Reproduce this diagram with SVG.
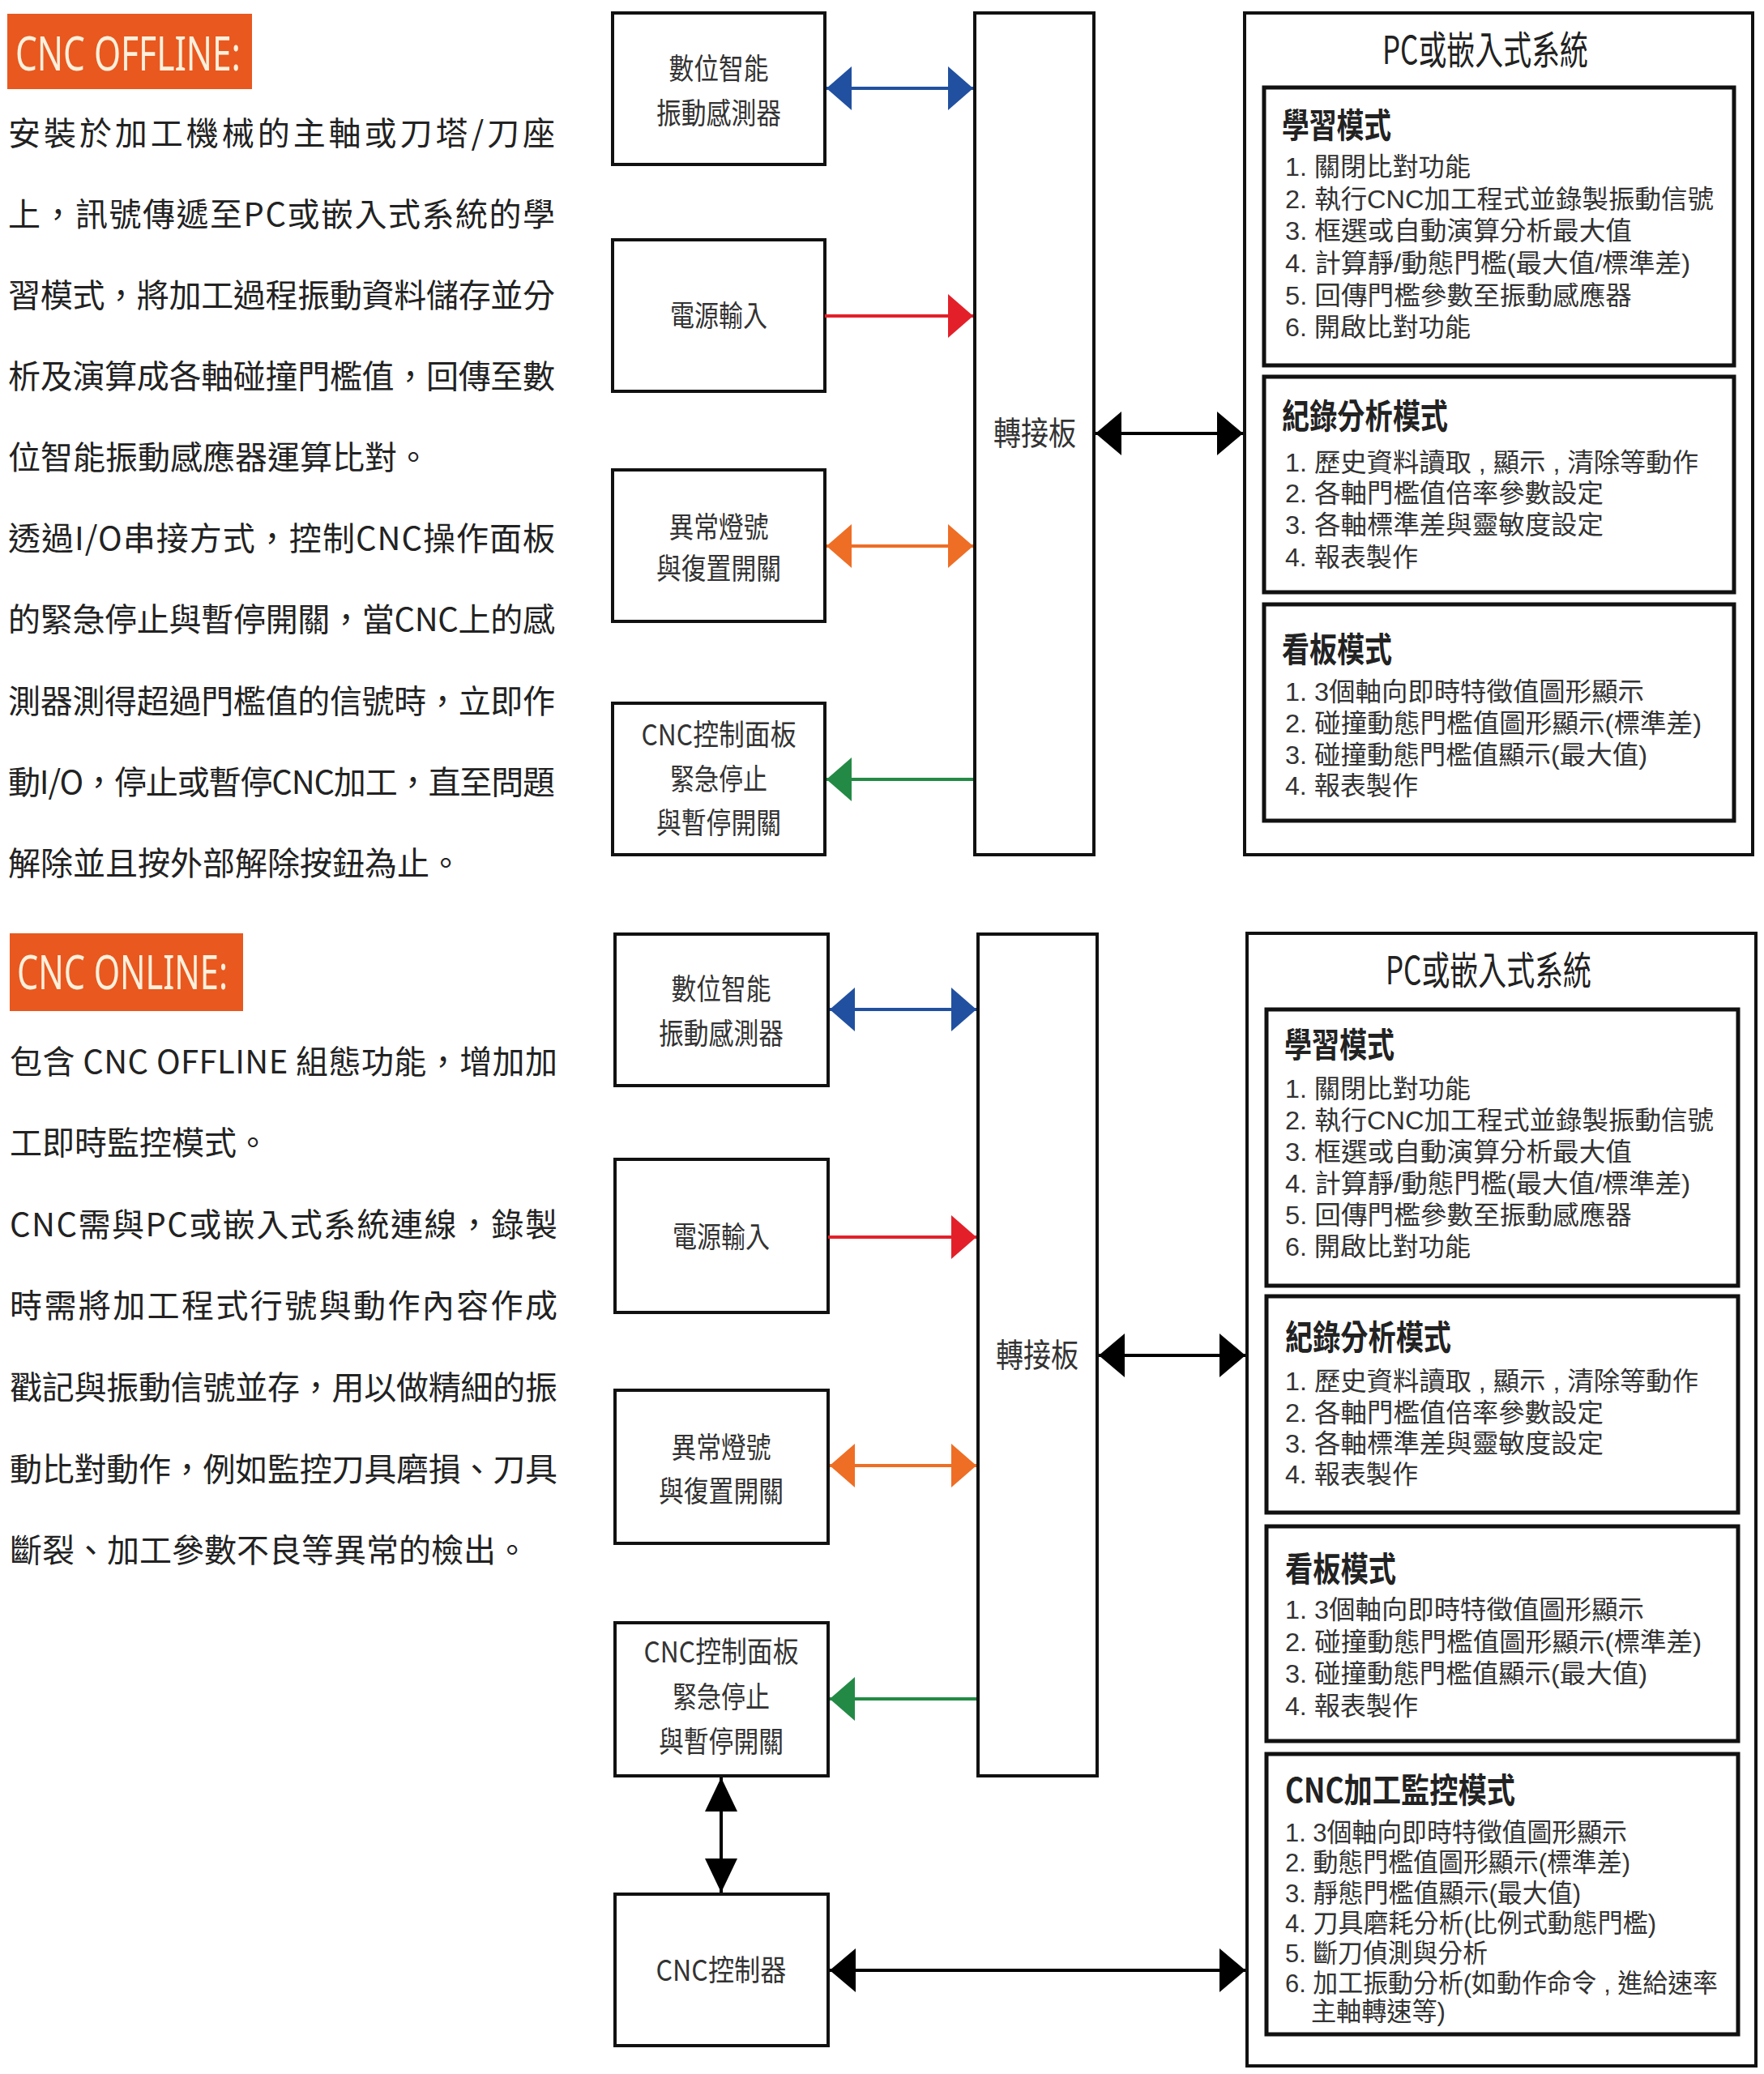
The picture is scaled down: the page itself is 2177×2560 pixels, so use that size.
<svg xmlns="http://www.w3.org/2000/svg" width="2177" height="2560" viewBox="0 0 2177 2560">
<style>
.para{font-family:"Noto Sans CJK TC","Noto Sans",sans-serif;font-size:40px;fill:#222}
.tag{font-family:"Noto Sans","Liberation Sans",sans-serif;font-size:58px;fill:#fdf0dc}
.tagbox{fill:#e8581f}
.node{fill:#fff;stroke:#111;stroke-width:4}
.inner{fill:#fff;stroke:#111;stroke-width:5}
.nt{font-family:"Noto Sans CJK TC",sans-serif;font-size:36px;fill:#333;text-anchor:middle}
.hub{font-family:"Noto Sans CJK TC",sans-serif;font-size:40px;fill:#333;text-anchor:middle}
.title{font-family:"Noto Sans CJK TC",sans-serif;font-size:48px;fill:#222;text-anchor:middle}
.hd{font-family:"Noto Sans CJK TC",sans-serif;font-size:42px;font-weight:700;fill:#222}
.it{font-family:"Liberation Sans","Noto Sans CJK TC",sans-serif;font-size:32px;fill:#333}
.ln{fill:none;stroke-width:4}
</style>
<defs>
<marker id="hb" viewBox="0 0 31 54" refX="31" refY="27" markerWidth="31" markerHeight="54" markerUnits="userSpaceOnUse" orient="auto-start-reverse"><path d="M0,0L31,27L0,54Z" fill="#2150a0"/></marker>
<marker id="hr" viewBox="0 0 31 54" refX="31" refY="27" markerWidth="31" markerHeight="54" markerUnits="userSpaceOnUse" orient="auto-start-reverse"><path d="M0,0L31,27L0,54Z" fill="#e3202a"/></marker>
<marker id="ho" viewBox="0 0 31 54" refX="31" refY="27" markerWidth="31" markerHeight="54" markerUnits="userSpaceOnUse" orient="auto-start-reverse"><path d="M0,0L31,27L0,54Z" fill="#ee6e25"/></marker>
<marker id="hg" viewBox="0 0 31 54" refX="31" refY="27" markerWidth="31" markerHeight="54" markerUnits="userSpaceOnUse" orient="auto-start-reverse"><path d="M0,0L31,27L0,54Z" fill="#238a45"/></marker>
<marker id="hk" viewBox="0 0 32 54" refX="32" refY="27" markerWidth="32" markerHeight="54" markerUnits="userSpaceOnUse" orient="auto-start-reverse"><path d="M0,0L32,27L0,54Z" fill="#000"/></marker>
<marker id="hv" viewBox="0 0 42 40" refX="42" refY="20" markerWidth="42" markerHeight="40" markerUnits="userSpaceOnUse" orient="auto-start-reverse"><path d="M0,0L42,20L0,40Z" fill="#000"/></marker>
</defs>
<rect width="2177" height="2560" fill="#fff"/>

<!-- ===== TOP: CNC OFFLINE ===== -->
<g id="offline-text">
<rect class="tagbox" x="9" y="17" width="302" height="93"/>
<text class="tag" x="19" y="87" textLength="278" lengthAdjust="spacingAndGlyphs">CNC OFFLINE:</text>
<text class="para" x="10" y="179" textLength="675" lengthAdjust="spacing">安裝於加工機械的主軸或刀塔/刀座</text>
<text class="para" x="10" y="279" textLength="675" lengthAdjust="spacing">上，訊號傳遞至PC或嵌入式系統的學</text>
<text class="para" x="10" y="379" textLength="675" lengthAdjust="spacing">習模式，將加工過程振動資料儲存並分</text>
<text class="para" x="10" y="479" textLength="675" lengthAdjust="spacing">析及演算成各軸碰撞門檻值，回傳至數</text>
<text class="para" x="10" y="579">位智能振動感應器運算比對。</text>
<text class="para" x="10" y="679" textLength="675" lengthAdjust="spacing">透過I/O串接方式，控制CNC操作面板</text>
<text class="para" x="10" y="779" textLength="675" lengthAdjust="spacing">的緊急停止與暫停開關，當CNC上的感</text>
<text class="para" x="10" y="880" textLength="675" lengthAdjust="spacing">測器測得超過門檻值的信號時，立即作</text>
<text class="para" x="10" y="980" textLength="675" lengthAdjust="spacing">動I/O，停止或暫停CNC加工，直至問題</text>
<text class="para" x="10" y="1080">解除並且按外部解除按鈕為止。</text>
</g>

<g id="top-sensor"><rect class="node" x="756" y="16" width="262" height="187"/>
<text class="nt" x="887" y="98" textLength="123" lengthAdjust="spacingAndGlyphs">數位智能</text>
<text class="nt" x="887" y="153" textLength="154" lengthAdjust="spacingAndGlyphs">振動感測器</text></g>
<g id="top-power"><rect class="node" x="756" y="296" width="262" height="187"/>
<text class="nt" x="887" y="403" textLength="120" lengthAdjust="spacingAndGlyphs">電源輸入</text></g>
<g id="top-alarm"><rect class="node" x="756" y="580" width="262" height="187"/>
<text class="nt" x="887" y="664" textLength="123" lengthAdjust="spacingAndGlyphs">異常燈號</text>
<text class="nt" x="887" y="715" textLength="154" lengthAdjust="spacingAndGlyphs">與復置開關</text></g>
<g id="top-panel"><rect class="node" x="756" y="868" width="262" height="187"/>
<text class="nt" x="887" y="920" textLength="191" lengthAdjust="spacingAndGlyphs">CNC控制面板</text>
<text class="nt" x="887" y="975" textLength="120" lengthAdjust="spacingAndGlyphs">緊急停止</text>
<text class="nt" x="887" y="1029" textLength="154" lengthAdjust="spacingAndGlyphs">與暫停開關</text></g>
<g id="top-adapter"><rect class="node" x="1203" y="16" width="147" height="1039"/>
<text class="hub" x="1277" y="549" textLength="102" lengthAdjust="spacingAndGlyphs">轉接板</text></g>

<g id="top-pc">
<rect class="node" x="1536" y="16" width="627" height="1039"/>
<text class="title" x="1833" y="79" textLength="254" lengthAdjust="spacingAndGlyphs">PC或嵌入式系統</text>
<rect class="inner" x="1560" y="108" width="580" height="343"/>
<text class="hd" x="1582" y="170" textLength="135" lengthAdjust="spacingAndGlyphs">學習模式</text>
<text class="it" x="1586" y="217" textLength="229" lengthAdjust="spacingAndGlyphs">1. 關閉比對功能</text>
<text class="it" x="1586" y="257" textLength="529" lengthAdjust="spacingAndGlyphs">2. 執行CNC加工程式並錄製振動信號</text>
<text class="it" x="1586" y="296" textLength="428" lengthAdjust="spacingAndGlyphs">3. 框選或自動演算分析最大值</text>
<text class="it" x="1586" y="336" textLength="500" lengthAdjust="spacingAndGlyphs">4. 計算靜/動態門檻(最大值/標準差)</text>
<text class="it" x="1586" y="376" textLength="428" lengthAdjust="spacingAndGlyphs">5. 回傳門檻參數至振動感應器</text>
<text class="it" x="1586" y="415" textLength="229" lengthAdjust="spacingAndGlyphs">6. 開啟比對功能</text>
<rect class="inner" x="1560" y="465" width="580" height="266"/>
<text class="hd" x="1582" y="529" textLength="205" lengthAdjust="spacingAndGlyphs">紀錄分析模式</text>
<text class="it" x="1586" y="582" textLength="510" lengthAdjust="spacingAndGlyphs">1. 歷史資料讀取 , 顯示 , 清除等動作</text>
<text class="it" x="1586" y="620" textLength="393" lengthAdjust="spacingAndGlyphs">2. 各軸門檻值倍率參數設定</text>
<text class="it" x="1586" y="659" textLength="393" lengthAdjust="spacingAndGlyphs">3. 各軸標準差與靈敏度設定</text>
<text class="it" x="1586" y="699" textLength="164" lengthAdjust="spacingAndGlyphs">4. 報表製作</text>
<rect class="inner" x="1560" y="746" width="580" height="267"/>
<text class="hd" x="1582" y="817" textLength="136" lengthAdjust="spacingAndGlyphs">看板模式</text>
<text class="it" x="1586" y="865" textLength="443" lengthAdjust="spacingAndGlyphs">1. 3個軸向即時特徵值圖形顯示</text>
<text class="it" x="1586" y="904" textLength="514" lengthAdjust="spacingAndGlyphs">2. 碰撞動態門檻值圖形顯示(標準差)</text>
<text class="it" x="1586" y="943" textLength="447" lengthAdjust="spacingAndGlyphs">3. 碰撞動態門檻值顯示(最大值)</text>
<text class="it" x="1586" y="981" textLength="164" lengthAdjust="spacingAndGlyphs">4. 報表製作</text>
</g>

<!-- ===== BOTTOM: CNC ONLINE ===== -->
<g id="online-text">
<rect class="tagbox" x="12" y="1152" width="288" height="96"/>
<text class="tag" x="21" y="1221" textLength="260" lengthAdjust="spacingAndGlyphs">CNC ONLINE:</text>
<text class="para" x="12" y="1325" textLength="676" lengthAdjust="spacing">包含 CNC OFFLINE 組態功能，增加加</text>
<text class="para" x="12" y="1425">工即時監控模式。</text>
<text class="para" x="12" y="1526" textLength="676" lengthAdjust="spacing">CNC需與PC或嵌入式系統連線，錄製</text>
<text class="para" x="12" y="1626" textLength="676" lengthAdjust="spacing">時需將加工程式行號與動作內容作成</text>
<text class="para" x="12" y="1727" textLength="676" lengthAdjust="spacing">戳記與振動信號並存，用以做精細的振</text>
<text class="para" x="12" y="1828" textLength="676" lengthAdjust="spacing">動比對動作，例如監控刀具磨損、刀具</text>
<text class="para" x="12" y="1928">斷裂、加工參數不良等異常的檢出。</text>
</g>

<g id="bot-sensor"><rect class="node" x="759" y="1153" width="263" height="187"/>
<text class="nt" x="890" y="1234" textLength="123" lengthAdjust="spacingAndGlyphs">數位智能</text>
<text class="nt" x="890" y="1289" textLength="154" lengthAdjust="spacingAndGlyphs">振動感測器</text></g>
<g id="bot-power"><rect class="node" x="759" y="1431" width="263" height="189"/>
<text class="nt" x="890" y="1540" textLength="120" lengthAdjust="spacingAndGlyphs">電源輸入</text></g>
<g id="bot-alarm"><rect class="node" x="759" y="1716" width="263" height="189"/>
<text class="nt" x="890" y="1800" textLength="123" lengthAdjust="spacingAndGlyphs">異常燈號</text>
<text class="nt" x="890" y="1854" textLength="154" lengthAdjust="spacingAndGlyphs">與復置開關</text></g>
<g id="bot-panel"><rect class="node" x="759" y="2003" width="263" height="189"/>
<text class="nt" x="890" y="2052" textLength="191" lengthAdjust="spacingAndGlyphs">CNC控制面板</text>
<text class="nt" x="890" y="2108" textLength="120" lengthAdjust="spacingAndGlyphs">緊急停止</text>
<text class="nt" x="890" y="2163" textLength="154" lengthAdjust="spacingAndGlyphs">與暫停開關</text></g>
<g id="bot-controller"><rect class="node" x="759" y="2338" width="263" height="187"/>
<text class="nt" x="890" y="2445" textLength="161" lengthAdjust="spacingAndGlyphs">CNC控制器</text></g>
<g id="bot-adapter"><rect class="node" x="1207" y="1153" width="147" height="1039"/>
<text class="hub" x="1280" y="1687" textLength="102" lengthAdjust="spacingAndGlyphs">轉接板</text></g>

<g id="bot-pc">
<rect class="node" x="1539" y="1152" width="628" height="1398"/>
<text class="title" x="1837" y="1215" textLength="254" lengthAdjust="spacingAndGlyphs">PC或嵌入式系統</text>
<rect class="inner" x="1563" y="1246" width="582" height="341"/>
<text class="hd" x="1585" y="1305" textLength="136" lengthAdjust="spacingAndGlyphs">學習模式</text>
<text class="it" x="1586" y="1355" textLength="229" lengthAdjust="spacingAndGlyphs">1. 關閉比對功能</text>
<text class="it" x="1586" y="1394" textLength="529" lengthAdjust="spacingAndGlyphs">2. 執行CNC加工程式並錄製振動信號</text>
<text class="it" x="1586" y="1433" textLength="428" lengthAdjust="spacingAndGlyphs">3. 框選或自動演算分析最大值</text>
<text class="it" x="1586" y="1472" textLength="500" lengthAdjust="spacingAndGlyphs">4. 計算靜/動態門檻(最大值/標準差)</text>
<text class="it" x="1586" y="1511" textLength="428" lengthAdjust="spacingAndGlyphs">5. 回傳門檻參數至振動感應器</text>
<text class="it" x="1586" y="1550" textLength="229" lengthAdjust="spacingAndGlyphs">6. 開啟比對功能</text>
<rect class="inner" x="1563" y="1600" width="582" height="267"/>
<text class="hd" x="1586" y="1666" textLength="205" lengthAdjust="spacingAndGlyphs">紀錄分析模式</text>
<text class="it" x="1586" y="1716" textLength="510" lengthAdjust="spacingAndGlyphs">1. 歷史資料讀取 , 顯示 , 清除等動作</text>
<text class="it" x="1586" y="1755" textLength="393" lengthAdjust="spacingAndGlyphs">2. 各軸門檻值倍率參數設定</text>
<text class="it" x="1586" y="1793" textLength="393" lengthAdjust="spacingAndGlyphs">3. 各軸標準差與靈敏度設定</text>
<text class="it" x="1586" y="1831" textLength="164" lengthAdjust="spacingAndGlyphs">4. 報表製作</text>
<rect class="inner" x="1563" y="1884" width="582" height="265"/>
<text class="hd" x="1586" y="1952" textLength="137" lengthAdjust="spacingAndGlyphs">看板模式</text>
<text class="it" x="1586" y="1998" textLength="443" lengthAdjust="spacingAndGlyphs">1. 3個軸向即時特徵值圖形顯示</text>
<text class="it" x="1586" y="2038" textLength="514" lengthAdjust="spacingAndGlyphs">2. 碰撞動態門檻值圖形顯示(標準差)</text>
<text class="it" x="1586" y="2077" textLength="447" lengthAdjust="spacingAndGlyphs">3. 碰撞動態門檻值顯示(最大值)</text>
<text class="it" x="1586" y="2117" textLength="164" lengthAdjust="spacingAndGlyphs">4. 報表製作</text>
<rect class="inner" x="1563" y="2165" width="582" height="346"/>
<text class="hd" x="1586" y="2225" textLength="284" lengthAdjust="spacingAndGlyphs">CNC加工監控模式</text>
<text class="it" x="1586" y="2273" textLength="422" lengthAdjust="spacingAndGlyphs">1. 3個軸向即時特徵值圖形顯示</text>
<text class="it" x="1586" y="2310" textLength="426" lengthAdjust="spacingAndGlyphs">2. 動態門檻值圖形顯示(標準差)</text>
<text class="it" x="1586" y="2348" textLength="365" lengthAdjust="spacingAndGlyphs">3. 靜態門檻值顯示(最大值)</text>
<text class="it" x="1586" y="2385" textLength="458" lengthAdjust="spacingAndGlyphs">4. 刀具磨耗分析(比例式動態門檻)</text>
<text class="it" x="1586" y="2422" textLength="250" lengthAdjust="spacingAndGlyphs">5. 斷刀偵測與分析</text>
<text class="it" x="1586" y="2459" textLength="534" lengthAdjust="spacingAndGlyphs">6. 加工振動分析(如動作命令 , 進給速率</text>
<text class="it" x="1618" y="2494" textLength="166" lengthAdjust="spacingAndGlyphs">主軸轉速等)</text>
</g>

<g id="connectors">
<line class="ln" x1="1020" y1="109" x2="1201" y2="109" stroke="#2150a0" marker-start="url(#hb)" marker-end="url(#hb)"/>
<line class="ln" x1="1018" y1="390" x2="1201" y2="390" stroke="#e3202a" marker-end="url(#hr)"/>
<line class="ln" x1="1020" y1="674" x2="1201" y2="674" stroke="#ee6e25" marker-start="url(#ho)" marker-end="url(#ho)"/>
<line class="ln" x1="1201" y1="962" x2="1020" y2="962" stroke="#238a45" marker-end="url(#hg)"/>
<line class="ln" x1="1352" y1="535" x2="1534" y2="535" stroke="#000" marker-start="url(#hk)" marker-end="url(#hk)"/>

<line class="ln" x1="1024" y1="1246" x2="1205" y2="1246" stroke="#2150a0" marker-start="url(#hb)" marker-end="url(#hb)"/>
<line class="ln" x1="1022" y1="1527" x2="1205" y2="1527" stroke="#e3202a" marker-end="url(#hr)"/>
<line class="ln" x1="1024" y1="1809" x2="1205" y2="1809" stroke="#ee6e25" marker-start="url(#ho)" marker-end="url(#ho)"/>
<line class="ln" x1="1205" y1="2097" x2="1024" y2="2097" stroke="#238a45" marker-end="url(#hg)"/>
<line class="ln" x1="1356" y1="1673" x2="1537" y2="1673" stroke="#000" marker-start="url(#hk)" marker-end="url(#hk)"/>
<line class="ln" x1="890" y1="2194" x2="890" y2="2336" stroke="#000" stroke-width="5" marker-start="url(#hv)" marker-end="url(#hv)"/>
<line class="ln" x1="1024" y1="2432" x2="1537" y2="2432" stroke="#000" marker-start="url(#hk)" marker-end="url(#hk)"/>
</g>
</svg>
